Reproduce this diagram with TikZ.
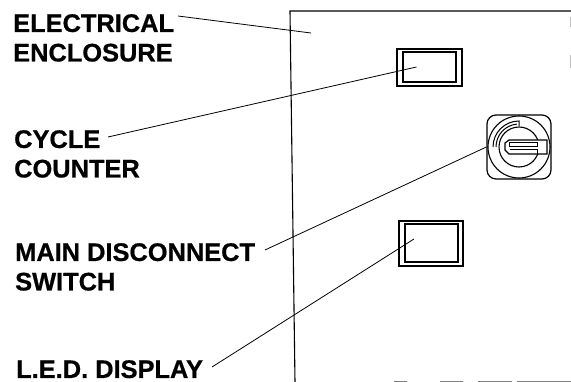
\documentclass[tikz,border=0pt]{standalone}
\usepackage{fontspec}
\setmainfont[BoldFeatures={FakeBold=0.7}]{Liberation Sans}
\begin{document}
\begin{tikzpicture}[
    x=1pt,y=-1pt,
    every node/.style={font=\fontsize{25.4}{29.5}\selectfont\bfseries},
    callout/.style={anchor=north west,inner sep=0pt,align=left},
    panel/.style={draw,line width=1.5pt,inner sep=0pt},
    leader/.style={line width=0.8pt},
    wall/.style={line width=1.1pt}
]
\useasboundingbox (0,0) rectangle (571,382);

% Labels
\node[callout] (enclosure) at (13,14) {ELECTRICAL\\ENCLOSURE};
\node[callout] (counter) at (14,130) {CYCLE\\COUNTER};
\node[callout] (disconnect) at (15,243) {MAIN DISCONNECT\\SWITCH};
\node[callout] (display) at (16,360) {L.E.D. DISPLAY};

% Enclosure outline
\coordinate (wallbottom) at (295,382);
\coordinate (walltop) at (290,11);
\coordinate (wallright) at (571,11);
\draw[wall] (wallbottom) -- (walltop) -- (wallright);
\foreach \xa/\xb in {394/407,440/463,478/512,517/571}
    \draw[line width=0.7pt,gray] (\xa,381.5) -- (\xb,381.5);
\foreach \ya/\yb in {17/27,55/68}
    \draw[line width=0.8pt,lightgray] (570,\ya) -- (570,\yb);

% Cycle counter window
\node[panel,minimum width=65pt,minimum height=37pt] (countbox) at (429.5,67.5) {};
\node[panel,line width=1.2pt,minimum width=53pt,minimum height=30pt] (countglass) at (429.5,67) {};

% Display window
\node[panel,minimum width=64pt,minimum height=45pt] (ledbox) at (431,243.5) {};
\node[panel,line width=1.2pt,minimum width=53pt,minimum height=38pt] (ledglass) at (431.5,243) {};

% Disconnect switch
\node[panel,line width=1.2pt,rounded corners=9pt,minimum width=64pt,minimum height=64pt] (switchbody) at (519,147) {};
\node[draw,circle,line width=1.1pt,inner sep=0pt,minimum size=62pt] (switchring) at (519,147) {};
\node[draw,circle,line width=1.1pt,inner sep=0pt,minimum size=40pt] (switchhub) at (519,147) {};
\draw[line width=1pt] (493,147) arc[start angle=180,end angle=270,radius=26] -- ++(0,5);
\draw[line width=1pt] (496,147) arc[start angle=180,end angle=265,radius=23];
% Handle
\draw[line width=1.2pt,fill=white] (505,143) -- (509,140) -- (547,140) -- (547,154) -- (509,154) -- (505,150) -- cycle;
\draw[line width=1pt,fill=white] (509,143) -- (537,143) -- (537,147) -- (509,147) -- cycle;
\draw[line width=1pt] (510,150) -- (537,150) -- (537,154);

% Leader lines
\coordinate (enclosuretip) at (311,33);
\coordinate (counterstart) at (108,137);
\coordinate (countertip) at (416.5,67);
\coordinate (disconnectstart) at (265,250);
\coordinate (displaystart) at (212,367);
\coordinate (displaytip) at (414,239);
\coordinate (enclosurestart) at (178,16);
\draw[leader] (enclosurestart) -- (enclosuretip);
\draw[leader] (counterstart) -- (countertip);
\draw[leader] (disconnectstart) -- (switchbody.west);
\draw[leader] (displaystart) -- (displaytip);

\end{tikzpicture}
\end{document}
